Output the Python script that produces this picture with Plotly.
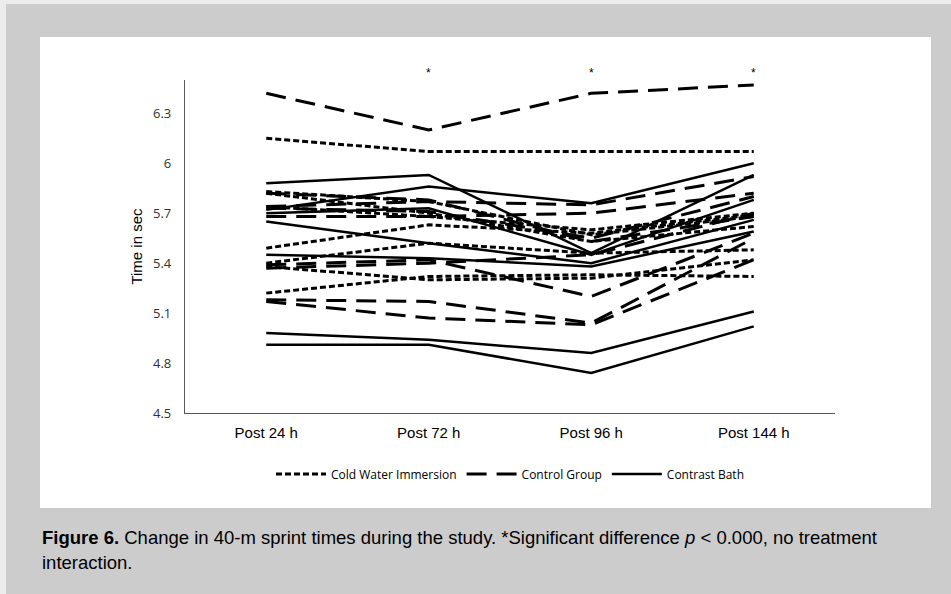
import plotly.graph_objects as go

categories = ["Post 24 h", "Post 72 h", "Post 96 h", "Post 144 h"]
y_ticks = [4.5, 4.8, 5.1, 5.4, 5.7, 6.0, 6.3]
y_tick_labels = ["4.5", "4.8", "5.1", "5.4", "5.7", "6", "6.3"]

# Cold Water Immersion (dotted)
cwi = [
    [6.15, 6.07, 6.07, 6.07],
    [5.83, 5.77, 5.57, 5.68],
    [5.82, 5.70, 5.53, 5.62],
    [5.74, 5.68, 5.60, 5.70],
    [5.49, 5.63, 5.58, 5.69],
    [5.40, 5.52, 5.46, 5.48],
    [5.38, 5.30, 5.31, 5.42],
    [5.22, 5.32, 5.33, 5.32],
]
# Control Group (dashed)
control = [
    [6.42, 6.20, 6.42, 6.47],
    [5.74, 5.77, 5.75, 5.92],
    [5.68, 5.68, 5.70, 5.82],
    [5.73, 5.71, 5.55, 5.80],
    [5.82, 5.78, 5.53, 5.68],
    [5.39, 5.42, 5.20, 5.58],
    [5.37, 5.40, 5.45, 5.70],
    [5.18, 5.17, 5.04, 5.55],
    [5.17, 5.07, 5.03, 5.42],
]
# Contrast Bath (solid)
contrast = [
    [5.88, 5.93, 5.46, 5.93],
    [5.72, 5.86, 5.76, 6.00],
    [5.70, 5.73, 5.45, 5.78],
    [5.65, 5.52, 5.40, 5.66],
    [5.45, 5.43, 5.38, 5.59],
    [4.98, 4.94, 4.86, 5.11],
    [4.91, 4.91, 4.74, 5.02],
]
significant = ["Post 72 h", "Post 96 h", "Post 144 h"]

groups = [
    ("Cold Water Immersion", cwi, dict(color="black", width=3, dash="6px,3px")),
    ("Control Group", control, dict(color="black", width=3, dash="20px,10px")),
    ("Contrast Bath", contrast, dict(color="black", width=2.5)),
]

fig = go.Figure()
xs = list(range(len(categories)))
for name, series, line in groups:
    for i, vals in enumerate(series):
        fig.add_trace(go.Scatter(
            x=xs, y=vals, mode="lines", name=name, legendgroup=name,
            showlegend=(i == 0), line=line, hoverinfo="skip"))

W, H = 951, 594
L, R, T, B = 185, 835, 80, 413


def px(x):
    return (x - L) / (R - L)


def py(y):
    return (B - y) / (B - T)


shapes = [
    dict(type="rect", xref="paper", yref="paper", x0=px(6), x1=px(W + 5), y0=py(H + 5), y1=py(4),
         fillcolor="#cccccc", line=dict(width=0), layer="below"),
    dict(type="rect", xref="paper", yref="paper", x0=px(40), x1=px(931), y0=py(508), y1=py(37),
         fillcolor="white", line=dict(width=0), layer="below"),
]

cap_font = dict(size=18.5, color="black", family="Liberation Sans")
annotations = []
for c in significant:
    annotations.append(dict(x=categories.index(c), y=6.5, xref="x", yref="y", text="*",
                            showarrow=False, yshift=7, font=dict(size=12, color="black",
                                                                 family="Liberation Sans")))
annotations.append(dict(
    x=px(40), y=py(537), xref="paper", yref="paper", xanchor="left", yanchor="middle",
    text="<b>Figure 6.</b> Change in 40-m sprint times during the study. *Significant difference "
         "<i>p</i> &lt; 0.000, no treatment",
    showarrow=False, font=cap_font))
annotations.append(dict(
    x=px(40), y=py(562), xref="paper", yref="paper", xanchor="left", yanchor="middle",
    text="interaction.", showarrow=False, font=cap_font))

fig.update_layout(
    width=W, height=H,
    margin=dict(l=L, r=W - R, t=T, b=H - B, pad=0),
    paper_bgcolor="#ececec",
    plot_bgcolor="white",
    shapes=shapes,
    annotations=annotations,
    showlegend=True,
    legend=dict(orientation="h", x=0.5, xanchor="center", y=py(474), yanchor="middle",
                font=dict(size=12, family="Open Sans", color="black"),
                bgcolor="rgba(0,0,0,0)", itemwidth=50),
    xaxis=dict(range=[-0.5, 3.5], tickmode="array", tickvals=xs, ticktext=categories,
               showgrid=False, zeroline=False, showline=True, linecolor="#595959", linewidth=1.3,
               ticks="outside", ticklen=6, tickcolor="rgba(0,0,0,0)",
               tickfont=dict(size=15, family="Liberation Sans", color="black")),
    yaxis=dict(range=[4.5, 6.5], tickmode="array", tickvals=y_ticks, ticktext=y_tick_labels,
               showgrid=False, zeroline=False, showline=True, linecolor="#595959", linewidth=1.3,
               ticks="outside", ticklen=10, tickcolor="rgba(0,0,0,0)",
               tickfont=dict(size=13, family="Open Sans", color="#333333"),
               title=dict(text="Time in sec", font=dict(size=15, family="Liberation Sans", color="black"),
                          standoff=6)),
)

fig.write_html("out.html")
